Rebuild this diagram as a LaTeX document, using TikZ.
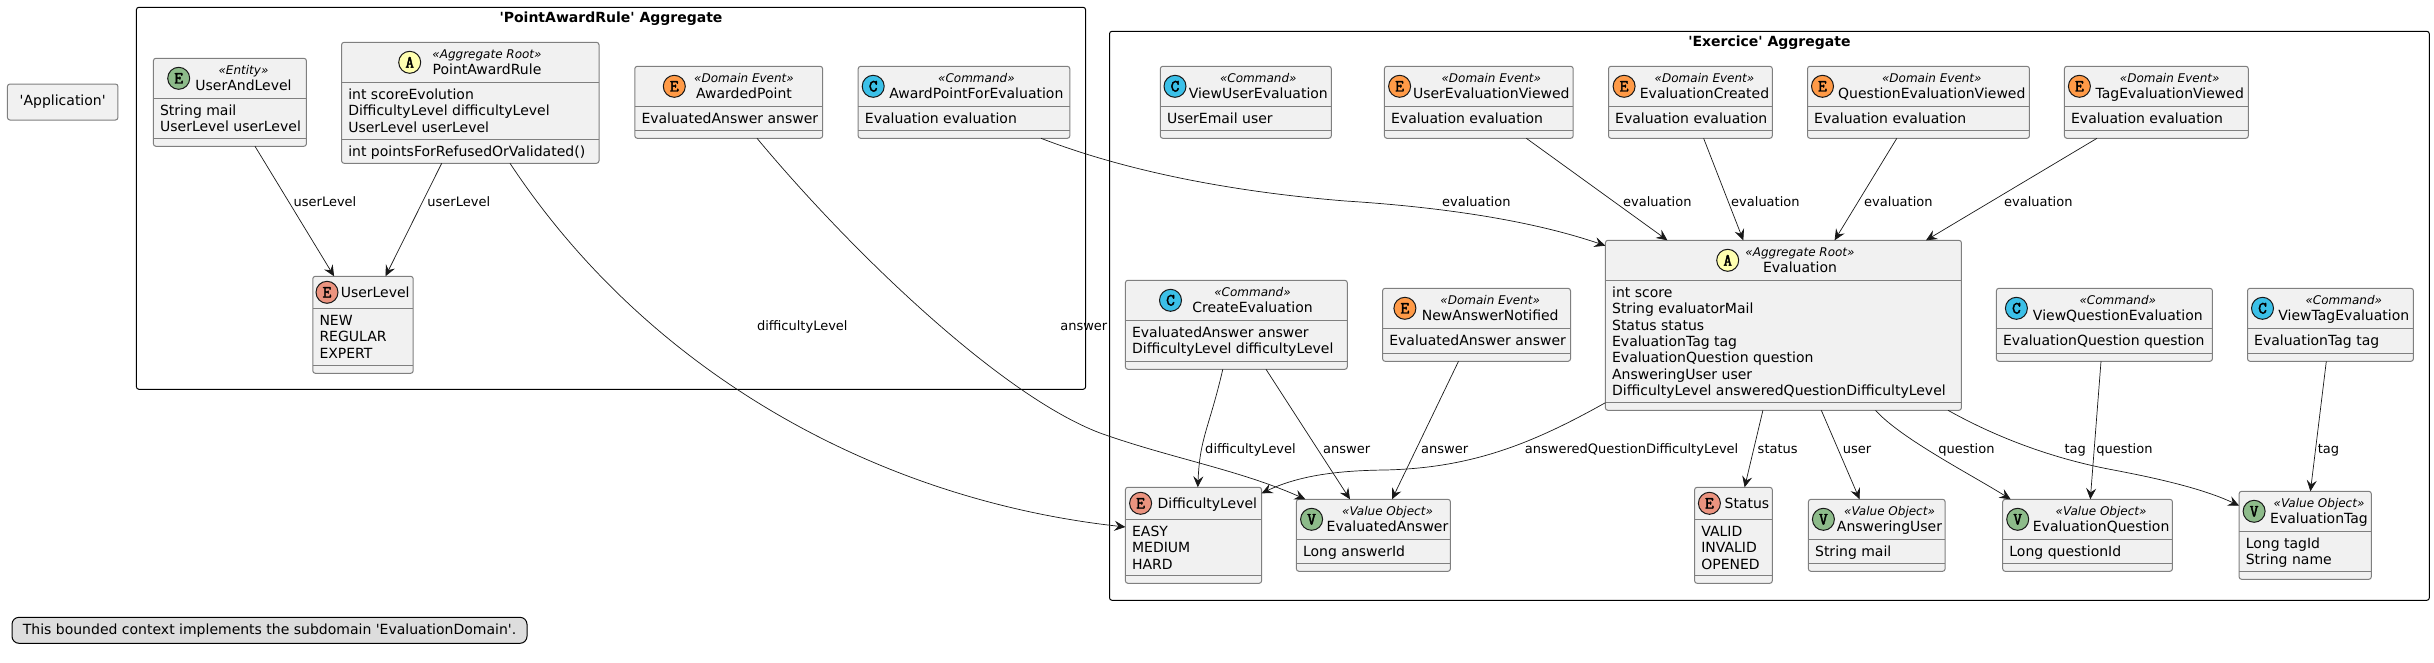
\documentclass[tikz,border=0pt]{standalone}
\usepackage{fontspec}
\usepackage{tikz}
\usetikzlibrary{arrows.meta}
\newfontfamily\umlfont{DejaVu Sans}
\newfontfamily\spotfont{Latin Modern Mono}[FakeBold=2.5]

\definecolor{boxfill}{HTML}{F1F1F1}
\definecolor{boxline}{HTML}{7F7F7F}
\definecolor{linkline}{HTML}{181818}
\definecolor{notefill}{HTML}{DDDDDD}
\definecolor{spotgreen}{HTML}{8DBB8A}
\definecolor{spotenum}{HTML}{EB937F}
\definecolor{spotevent}{HTML}{FF9A47}
\definecolor{spotcmd}{HTML}{3BC0E8}
\definecolor{spotroot}{HTML}{FFFFB0}

\tikzset{
  classbox/.style={shape=rectangle, draw=boxline, fill=boxfill, line width=1pt, rounded corners=2.5pt, inner sep=0pt, outer sep=0pt},
  sepline/.style={draw=boxline, line width=1pt},
  framebox/.style={shape=rectangle, draw=black, line width=1pt, rounded corners=2.5pt, inner sep=0pt, outer sep=0pt},
  frametitle/.style={anchor=base, inner sep=0pt, font=\umlfont\fontsize{14}{16.3}\selectfont\bfseries},
  memberlist/.style={anchor=north west, align=left, inner sep=0pt, font=\umlfont\fontsize{14}{16.3}\selectfont},
  titletext/.style={anchor=base, inner sep=0pt, font=\umlfont\fontsize{14}{16.3}\selectfont},
  stereotext/.style={anchor=base, inner sep=0pt, font=\umlfont\fontsize{12}{14}\selectfont\itshape},
  spot/.style={shape=circle, draw=linkline, line width=1pt, minimum size=22pt, inner sep=0pt, outer sep=0pt, font=\spotfont\fontsize{17}{17}\selectfont},
  linklabel/.style={anchor=base, inner sep=0pt, font=\umlfont\fontsize{13}{15}\selectfont},
  link/.style={draw=linkline, line width=.7pt, -{Stealth[length=11pt,width=10pt,inset=4pt]}},
}

% id, x1, y1, x2, y2, y of the two rules, members
\newcommand{\umlbox}[8]{
  \node (#1) [classbox, minimum width={(#4-#2)*1pt}, minimum height={(#5-#3)*1pt}] at ({(#2+#4)/2},{(#3+#5)/2}) {};
  \draw [sepline] (#2,#6) -- (#4,#6);
  \draw [sepline] (#2,#7) -- (#4,#7);
  \node (#1mem) [memberlist] at ({#2+6.5},{#6+5.6}) {\strut #8};
}
% id, x of spot, x of title, top, letter, colour, stereotype, title
\newcommand{\umlhead}[8]{
  \node (#1spot) [spot, fill=#6] at (#2,{#4+20}) {#5};
  \node (#1stereo) [stereotext] at (#3,{#4+16}) {«#7»};
  \node (#1title) [titletext] at (#3,{#4+31.7}) {#8};
}
% id, x of spot, x of title, top, title
\newcommand{\enumhead}[5]{
  \node (#1spot) [spot, fill=spotenum] at (#2,{#4+16}) {E};
  \node (#1title) [titletext] at (#3,{#4+20.7}) {#5};
}

\begin{document}
\begin{tikzpicture}[x=1pt, y=-1pt]
  \useasboundingbox (0,0) rectangle (2434,662);

  \node (app) [classbox, minimum width=110.5pt, minimum height=36pt, font=\umlfont\fontsize{14}{16.3}\selectfont] at (62.7,102) {'Application'};
  \node (note) [shape=rectangle, draw=black, fill=notefill, line width=1pt, rounded corners=7pt, inner sep=0pt, outer sep=0pt, minimum width=515pt, minimum height=26pt, font=\umlfont\fontsize{14}{16}\selectfont] at (269.5,630.3) {This bounded context implements the subdomain 'EvaluationDomain'.};

  % aggregates
  \node (ruleframe) [framebox, minimum width=949.2pt, minimum height=382pt] at (611,198.3) {};
  \node (ruletitle) [frametitle] at (611,22.5) {'PointAwardRule' Aggregate};
  \node (exframe) [framebox, minimum width=1319.8pt, minimum height=569pt] at (1769.4,315.8) {};
  \node (extitle) [frametitle] at (1769.4,46.5) {'Exercice' Aggregate};

  % PointAwardRule aggregate
  \umlbox{ual}{153.4}{58.3}{306.4}{146.3}{98.3}{138.3}{String mail\\UserLevel userLevel}
  \umlhead{ual}{178.7}{243.5}{58.3}{E}{spotgreen}{Entity}{UserAndLevel}
  \umlbox{par}{341.6}{42.3}{599}{163.3}{82.3}{139.3}{int scoreEvolution\\DifficultyLevel difficultyLevel\\UserLevel userLevel}
  \umlhead{par}{409.7}{487}{42.3}{A}{spotroot}{Aggregate Root}{PointAwardRule}
  \node (parmeth) [memberlist] at (348.1,144.9) {\strut int pointsForRefusedOrValidated()};
  \umlbox{ulevel}{312.8}{276.3}{413.2}{373.3}{308.3}{365.3}{NEW\\REGULAR\\EXPERT}
  \enumhead{ulevel}{327}{375.2}{276.3}{UserLevel}
  \umlbox{ap}{634.8}{66.3}{822.6}{138.3}{106.3}{130.3}{EvaluatedAnswer answer}
  \umlhead{ap}{674.3}{744}{66.3}{E}{spotevent}{Domain Event}{AwardedPoint}
  \umlbox{apfe}{858.2}{66.3}{1069.8}{138.3}{106.3}{130.3}{Evaluation evaluation}
  \umlhead{apfe}{873.2}{976.4}{66.3}{C}{spotcmd}{Command}{AwardPointForEvaluation}

  % Exercice aggregate, upper row
  \umlbox{vue}{1160.3}{66.3}{1331.3}{138.3}{106.3}{130.3}{UserEmail user}
  \umlhead{vue}{1175}{1258.3}{66.3}{C}{spotcmd}{Command}{ViewUserEvaluation}
  \umlbox{uev}{1384.4}{66.3}{1573.2}{138.3}{106.3}{130.3}{Evaluation evaluation}
  \umlhead{uev}{1399.6}{1491.3}{66.3}{E}{spotevent}{Domain Event}{UserEvaluationViewed}
  \umlbox{ecr}{1608.5}{66.3}{1772.3}{138.3}{106.3}{130.3}{Evaluation evaluation}
  \umlhead{ecr}{1624.1}{1704.5}{66.3}{E}{spotevent}{Domain Event}{EvaluationCreated}
  \umlbox{qev}{1807.5}{66.3}{2029.4}{138.3}{106.3}{130.3}{Evaluation evaluation}
  \umlhead{qev}{1822.5}{1931.8}{66.3}{E}{spotevent}{Domain Event}{QuestionEvaluationViewed}
  \umlbox{tev}{2064.4}{66.3}{2248.3}{138.3}{106.3}{130.3}{Evaluation evaluation}
  \umlhead{tev}{2079.4}{2169.7}{66.3}{E}{spotevent}{Domain Event}{TagEvaluationViewed}

  % Exercice aggregate, middle row
  \umlbox{eval}{1605.4}{240.3}{1961.4}{410.3}{280.3}{402.3}{int score\\String evaluatorMail\\Status status\\EvaluationTag tag\\EvaluationQuestion question\\AnsweringUser user\\DifficultyLevel answeredQuestionDifficultyLevel}
  \umlhead{eval}{1727.7}{1800}{240.3}{A}{spotroot}{Aggregate Root}{Evaluation}
  \umlbox{cre}{1125.4}{280.3}{1347.3}{369.3}{320.3}{361.3}{EvaluatedAnswer answer\\DifficultyLevel difficultyLevel}
  \umlhead{cre}{1170.5}{1252.5}{280.3}{C}{spotcmd}{Command}{CreateEvaluation}
  \umlbox{nan}{1382.6}{288.3}{1570.5}{361.3}{328.3}{353.3}{EvaluatedAnswer answer}
  \umlhead{nan}{1404.9}{1490.2}{288.3}{E}{spotevent}{Domain Event}{NewAnswerNotified}
  \umlbox{vqe}{1996.4}{288.3}{2212.4}{361.3}{328.3}{353.3}{EvaluationQuestion question}
  \umlhead{vqe}{2016.4}{2117.8}{288.3}{C}{spotcmd}{Command}{ViewQuestionEvaluation}
  \umlbox{vte}{2247.5}{288.3}{2413.4}{361.3}{328.3}{353.3}{EvaluationTag tag}
  \umlhead{vte}{2262.5}{2343.8}{288.3}{C}{spotcmd}{Command}{ViewTagEvaluation}

  % Exercice aggregate, lower row
  \umlbox{diff}{1125.4}{487.3}{1261.6}{583.3}{519.3}{575.3}{EASY\\MEDIUM\\HARD}
  \enumhead{diff}{1140.6}{1207.4}{487.3}{DifficultyLevel}
  \umlbox{ans}{1296.4}{499.3}{1450.4}{571.3}{539.3}{563.3}{Long answerId}
  \umlhead{ans}{1311.6}{1387.5}{499.3}{V}{spotgreen}{Value Object}{EvaluatedAnswer}
  \umlbox{stat}{1694.6}{487.3}{1772.3}{583.3}{519.3}{575.3}{VALID\\INVALID\\OPENED}
  \enumhead{stat}{1709.4}{1746.9}{487.3}{Status}
  \umlbox{auser}{1808.4}{499.3}{1945.1}{571.3}{539.3}{563.3}{String mail}
  \umlhead{auser}{1823.4}{1889.5}{499.3}{V}{spotgreen}{Value Object}{AnsweringUser}
  \umlbox{eques}{2002.7}{499.3}{2172.4}{571.3}{539.3}{563.3}{Long questionId}
  \umlhead{eques}{2017.7}{2101.1}{499.3}{V}{spotgreen}{Value Object}{EvaluationQuestion}
  \umlbox{etag}{2239.1}{491.3}{2371.3}{579.3}{531.3}{571.3}{Long tagId\\String name}
  \umlhead{etag}{2254.1}{2319}{491.3}{V}{spotgreen}{Value Object}{EvaluationTag}

  % connectors
  \draw [link] (ual.south -| 255,0) -- (ulevel.north -| 334.1,0);
  \draw [link] (par.south -| 441.7,0) -- (ulevel.north -| 385.5,0);
  \draw [link] (par.south -| 510,0) .. controls (650,375) and (880,500) .. (diff.west |- 0,527);
  \draw [link] (ap.south -| 757,0) .. controls (850,250) and (1000,395) .. (1100,433) .. controls (1170,458) and (1240,470) .. (ans.north -| 1305.4,0);
  \draw [link] (apfe.south -| 1041,0) .. controls (1110,165) and (1210,190) .. (1345.5,201) .. controls (1440,207) and (1530,220) .. (eval.west |- 0,245.7);
  \draw [link] (uev.south -| 1526.3,0) -- (eval.north -| 1667.4,0);
  \draw [link] (ecr.south -| 1703.6,0) -- (eval.north -| 1743.3,0);
  \draw [link] (qev.south -| 1896.8,0) -- (eval.north -| 1834.6,0);
  \draw [link] (tev.south -| 2097,0) -- (eval.north -| 1926,0);
  \draw [link] (cre.south -| 1222.8,0) .. controls +(-14,60) and +(2,-50) .. (diff.north -| 1197.8,0);
  \draw [link] (cre.south -| 1266,0) -- (ans.north -| 1350,0);
  \draw [link] (nan.south -| 1458.5,0) -- (ans.north -| 1392,0);
  \draw [link] (eval.west |- 0,402.7) .. controls (1530,445) and (1470,468) .. (1385,470) .. controls (1340,470.5) and (1300,475) .. (diff.east |- 0,493.3);
  \draw [link] (eval.south -| 1762.9,0) -- (stat.north -| 1744.6,0);
  \draw [link] (eval.south -| 1821.3,0) -- (auser.north -| 1859.6,0);
  \draw [link] (eval.south -| 1875.5,0) .. controls +(25,28) and +(-40,-25) .. (eques.north -| 2010.6,0);
  \draw [link] (eval.south -| 1948,0) .. controls (2010,445) and (2070,462) .. (2113.6,470) .. controls (2145,476) and (2200,487) .. (etag.west |- 0,505.7);
  \draw [link] (vqe.south -| 2101,0) -- (eques.north -| 2090.3,0);
  \draw [link] (vte.south -| 2326.3,0) -- (etag.north -| 2310.4,0);

  % labels
  \node (lblual) [linklabel] at (325,206) {userLevel};
  \node (lblpar) [linklabel] at (458.8,206) {userLevel};
  \node (lbldiffa) [linklabel] at (802.3,330) {difficultyLevel};
  \node (lblansa) [linklabel] at (1083.8,330) {answer};
  \node (lblapfe) [linklabel] at (1476.3,206) {evaluation};
  \node (lbluev) [linklabel] at (1657.3,206) {evaluation};
  \node (lblecr) [linklabel] at (1765.4,206) {evaluation};
  \node (lblqev) [linklabel] at (1898.4,206) {evaluation};
  \node (lbltev) [linklabel] at (2038.3,206) {evaluation};
  \node (lbldiffb) [linklabel] at (1250.5,453) {difficultyLevel};
  \node (lblansb) [linklabel] at (1346.6,453) {answer};
  \node (lblansc) [linklabel] at (1444.7,453) {answer};
  \node (lblaqdl) [linklabel] at (1631.6,453) {answeredQuestionDifficultyLevel};
  \node (lblstat) [linklabel] at (1777.7,453) {status};
  \node (lbluser) [linklabel] at (1857,453) {user};
  \node (lblquesa) [linklabel] at (1966.4,453) {question};
  \node (lbltaga) [linklabel] at (2075.2,453) {tag};
  \node (lblquesb) [linklabel] at (2124.4,453) {question};
  \node (lbltagb) [linklabel] at (2328.4,453) {tag};
\end{tikzpicture}
\end{document}
